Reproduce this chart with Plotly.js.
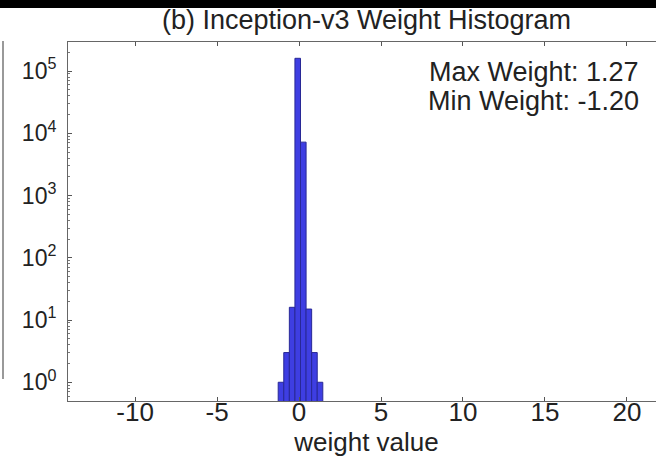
<!DOCTYPE html>
<html>
<head>
<meta charset="utf-8">
<script src="https://cdn.plot.ly/plotly-3.0.1.min.js"></script>
<style>
html,body{margin:0;padding:0;overflow:hidden;background:#fff;}
#chart{width:680px;height:472px;}
</style>
</head>
<body>
<div id="chart"></div>
<script>
// Data
var binCenters = [-1.10, -0.76, -0.42, -0.08, 0.26, 0.60, 0.94, 1.28];
var binCounts  = [1, 3, 16, 160000, 7200, 15, 3, 1];
var binWidth   = 0.34;
var xTickVals  = [-10, -5, 0, 5, 10, 15, 20];
var xTickText  = ['-10', '-5', '0', '5', '10', '15', '20'];
var yTickVals  = [1, 10, 100, 1000, 10000, 100000];
var yTickText  = ['10<sup>0</sup>','10<sup>1</sup>','10<sup>2</sup>','10<sup>3</sup>','10<sup>4</sup>','10<sup>5</sup>'];
var titleText  = '(b) Inception-v3 Weight Histogram';
var xTitle     = 'weight value';
var maxText    = 'Max Weight: 1.27';
var minText    = 'Min Weight: -1.20';

var minorVals = [];
for (var k = -1; k <= 5; k++) {
  for (var m = 2; m <= 9; m++) minorVals.push(m * Math.pow(10, k));
}

var fam = 'Liberation Sans, Arial, sans-serif';
var font = {family: fam, size: 26, color: '#222'};

var trace = {
  type: 'bar',
  x: binCenters,
  y: binCounts,
  width: binCenters.map(function(){ return binWidth; }),
  marker: {color: 'rgb(62,62,226)', line: {color: 'rgb(40,40,150)', width: 1}},
  hoverinfo: 'x+y'
};

var H = 472;
var plotTop = 42, plotBottom = 401;
var ph = plotBottom - plotTop;

var layout = {
  width: 680, height: 472,
  margin: {l: 68, r: 15, t: plotTop, b: H - plotBottom},
  paper_bgcolor: '#fff', plot_bgcolor: '#fff',
  font: font,
  showlegend: false,
  bargap: 0,
  title: {text: titleText, font: {family: fam, size: 27, color: '#222'},
          x: 0.5, xref: 'paper', xanchor: 'center', y: 1 - 20/H, yanchor: 'middle'},
  xaxis: {
    range: [-14.09, 22.32],
    tickvals: xTickVals, ticktext: xTickText,
    ticks: 'inside', ticklen: 4, tickcolor: '#555',
    showline: true, linecolor: '#666', linewidth: 1, mirror: 'ticks',
    showgrid: false, zeroline: false,
    tickfont: font,
    ticklabelstandoff: -12,
    title: {text: xTitle, font: font, standoff: 2}
  },
  yaxis: {
    type: 'log',
    range: [Math.log10(0.5), 5.466],
    tickvals: yTickVals, ticktext: yTickText,
    ticks: 'inside', ticklen: 4, tickcolor: '#555',
    minor: {tickvals: minorVals, ticks: 'inside', ticklen: 2, tickcolor: '#777', showgrid: false},
    showline: true, linecolor: '#666', linewidth: 1, mirror: 'ticks',
    showgrid: false, zeroline: false,
    tickfont: {family: fam, size: 23, color: '#222'},
    ticklabelstandoff: 6
  },
  annotations: [
    {text: maxText, xref: 'x', yref: 'paper', x: 20.85, y: (plotBottom - 72)/ph,
     xanchor: 'right', yanchor: 'middle', showarrow: false, font: {family: fam, size: 27, color: '#222'}},
    {text: minText, xref: 'x', yref: 'paper', x: 20.85, y: (plotBottom - 101)/ph,
     xanchor: 'right', yanchor: 'middle', showarrow: false, font: {family: fam, size: 27, color: '#222'}}
  ],
  shapes: [
    {type: 'rect', xref: 'paper', yref: 'paper', x0: -0.2, x1: 1.2,
     y0: 1 + (plotTop - 8)/ph, y1: 1 + (plotTop + 5)/ph,
     fillcolor: '#000', line: {width: 0}, layer: 'above'},
    {type: 'line', xref: 'paper', yref: 'paper',
     x0: -65/597, x1: -65/597, y0: (plotBottom - 379)/ph, y1: 1 + 1/ph,
     line: {color: '#777', width: 1.5}}
  ]
};

Plotly.newPlot('chart', [trace], layout, {displayModeBar: false, staticPlot: true});
</script>
</body>
</html>
